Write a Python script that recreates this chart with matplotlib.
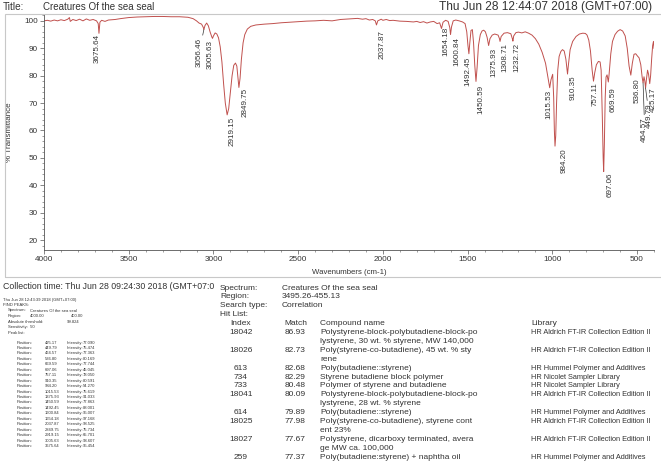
import matplotlib
matplotlib.use("Agg")
import matplotlib.pyplot as plt
from matplotlib.patches import Rectangle
from matplotlib.ticker import MultipleLocator

W, H = 661, 465

# spectrum: wavenumber (cm-1), % transmittance
wavenumbers = [
    4000, 3980, 3960, 3940, 3920, 3900, 3880, 3860, 3850, 3845, 3830, 3810,
    3790, 3770, 3750, 3730, 3710, 3690, 3680, 3675.64, 3670, 3660, 3640, 3620,
    3600, 3580, 3550, 3500, 3450, 3400, 3350, 3300, 3250, 3200, 3150, 3120,
    3100, 3085, 3070, 3060, 3056.46, 3050, 3040, 3030, 3020, 3010, 3005.63,
    3000, 2990, 2980, 2970, 2960, 2950, 2940, 2930, 2919.15, 2910, 2900, 2890,
    2880, 2870, 2862, 2856, 2849.75, 2843, 2835, 2825, 2815, 2800, 2780, 2750,
    2700, 2650, 2600, 2550, 2500, 2450, 2400, 2350, 2300, 2250, 2200, 2150,
    2120, 2100, 2080, 2060, 2045, 2037.87, 2030, 2010, 2000, 1980, 1960, 1940,
    1900, 1860, 1820, 1800, 1780, 1760, 1740, 1720, 1700, 1680, 1665, 1654.18,
    1645, 1630, 1615, 1605, 1600.84, 1595, 1585, 1570, 1550, 1530, 1515, 1505,
    1498, 1492.45, 1487, 1480, 1472, 1465, 1458, 1450.59, 1444, 1436, 1425,
    1415, 1405, 1395, 1385, 1375.93, 1368, 1355, 1340, 1320, 1312, 1308.71,
    1302, 1285, 1265, 1245, 1236, 1232.72, 1228, 1215, 1200, 1180, 1160, 1140,
    1120, 1100, 1080, 1060, 1040, 1025, 1015.53, 1008, 998, 992, 988, 984.20,
    980, 975, 968, 960, 950, 940, 930, 920, 914, 910.35, 905, 895, 880, 860,
    840, 820, 805, 795, 785, 775, 765, 757.11, 750, 740, 728, 718, 712, 705,
    700, 697.06, 693, 688, 683, 677, 672, 669.59, 665, 655, 645, 630, 615, 600,
    585, 570, 558, 547, 536.80, 528, 518, 508, 498, 488, 478, 470, 464.57, 459,
    454, 449.79, 445, 438, 432, 425.17, 420, 414, 408, 403, 400,
]
transmittance = [
    100.0, 100.2, 99.9, 100.3, 100.0, 100.4, 100.1, 100.6, 101.2, 99.8, 100.5, 100.1,
    100.6, 100.0, 100.7, 100.2, 100.5, 100.0, 99.0, 95.45, 99.5, 100.2, 99.8, 100.3,
    100.4, 100.5, 100.8, 101.2, 101.4, 101.5, 101.6, 101.6, 101.5, 101.5, 101.3, 100.8,
    100.0, 99.2, 98.8, 97.6, 96.8, 98.3, 99.2, 98.2, 96.0, 94.2, 93.6,
    94.5, 95.6, 95.2, 93.8, 90.5, 85.0, 77.0, 70.0, 65.7, 68.0, 74.0, 80.0,
    83.8, 84.6, 83.5, 79.5, 75.7, 79.0, 86.0, 92.0, 95.0, 97.0, 98.0, 98.5,
    98.8, 99.0, 99.3, 99.5, 99.7, 99.9, 100.0, 100.2, 100.0, 100.5, 100.7, 100.9,
    100.6, 100.8, 100.3, 100.5, 100.0, 98.5, 100.0, 100.6, 100.2, 100.5, 100.1, 100.2,
    99.9, 99.8, 99.6, 99.8, 99.4, 99.7, 99.2, 99.6, 99.8, 99.0, 99.3, 97.2,
    99.5, 100.2, 99.8, 97.5, 95.0, 97.8, 100.0, 100.3, 100.0, 99.6, 99.0, 96.0,
    91.0, 88.0, 92.0, 96.5, 96.8, 92.0, 84.0, 77.9, 83.0, 91.0, 95.0,
    96.3, 96.6, 96.0, 94.0, 91.0, 93.5, 94.8, 95.2, 94.8, 93.5, 92.5,
    94.3, 95.5, 95.7, 95.3, 93.5, 92.6, 94.5, 95.7, 95.9, 95.6, 96.0, 95.5,
    94.8, 93.5, 91.5, 88.5, 84.5, 79.0, 75.6, 78.5, 80.5, 72.0, 60.0, 54.3,
    58.0, 70.0, 82.0, 87.0, 88.8, 89.5, 89.0, 86.0, 82.5, 80.6, 84.0, 89.5, 92.5, 94.3,
    95.2, 95.5, 95.4, 94.8, 93.0, 89.0, 82.0, 78.0, 81.0, 84.0, 85.2, 85.0, 82.0, 65.0,
    50.0, 45.0, 55.0, 72.0, 79.5, 80.3, 78.5, 77.7, 80.5, 88.0, 92.5, 95.0, 96.2, 96.8,
    96.3, 94.5, 90.0, 83.5, 80.2, 84.5, 87.8, 88.0, 87.2, 86.5, 84.0, 79.5, 77.4, 79.6,
    78.0, 75.5, 78.5, 82.0, 80.5, 77.1, 80.0, 86.0, 91.0, 92.5, 90.0,
]

# labelled peaks on the chart
label_pos = [3675.64, 3056.46, 3005.63, 2919.15, 2849.75, 2037.87, 1654.18,
             1600.84, 1492.45, 1450.59, 1375.93, 1308.71, 1232.72, 1015.53,
             984.20, 910.35, 757.11, 697.06, 669.59, 536.80, 464.57, 449.79,
             425.17]
label_val = [95.45, 96.8, 93.6, 65.7, 75.7, 98.5, 97.2, 95.0, 88.0, 77.9,
             91.0, 92.5, 92.6, 75.6, 54.3, 80.6, 78.0, 45.0, 77.7, 80.2,
             77.4, 75.5, 77.1]

# peak table (left block)
table_pos = [425.17, 449.79, 464.57, 536.80, 669.59, 697.06, 757.11, 910.35,
             984.20, 1015.53, 1375.93, 1450.59, 1492.45, 1600.84, 1654.18,
             2037.87, 2849.75, 2919.15, 3005.63, 3675.64]
table_int = [77.090, 75.474, 77.363, 80.169, 77.744, 45.045, 78.050, 80.591,
             54.270, 75.619, 91.033, 77.863, 88.001, 95.007, 97.168, 98.525,
             75.734, 65.701, 93.607, 95.454]

# hit list (right block)
hit_index = ["18042", "18026", "613", "734", "733", "18041", "614", "18025",
             "18027", "259"]
hit_match = ["86.93", "82.73", "82.68", "82.29", "80.48", "80.09", "79.89",
             "77.98", "77.67", "77.37"]
hit_name = [
    ["Polystyrene-block-polybutadiene-block-po", "lystyrene, 30 wt. % styrene, MW 140,000"],
    ["Poly(styrene-co-butadiene), 45 wt. % sty", "rene"],
    ["Poly(butadiene::styrene)"],
    ["Styrene butadiene block polymer"],
    ["Polymer of styrene and butadiene"],
    ["Polystyrene-block-polybutadiene-block-po", "lystyrene, 28 wt. % styrene"],
    ["Poly(butadiene::styrene)"],
    ["Poly(styrene-co-butadiene), styrene cont", "ent 23%"],
    ["Polystyrene, dicarboxy terminated, avera", "ge MW ca. 100,000"],
    ["Poly(butadiene:styrene) + naphtha oil"],
]
hit_library = ["HR Aldrich FT-IR Collection Edition II",
               "HR Aldrich FT-IR Collection Edition II",
               "HR Hummel Polymer and Additives",
               "HR Nicolet Sampler Library",
               "HR Nicolet Sampler Library",
               "HR Aldrich FT-IR Collection Edition II",
               "HR Hummel Polymer and Additives",
               "HR Aldrich FT-IR Collection Edition II",
               "HR Aldrich FT-IR Collection Edition II",
               "HR Hummel Polymer and Additives"]

plt.rcParams['font.family'] = ['Liberation Sans', 'DejaVu Sans']
ink = '#333333'

fig = plt.figure(figsize=(W / 100, H / 100), dpi=100)


def put(x, y, s, size, **kw):
    """text placed in screen pixels of the printout"""
    kw.setdefault('va', 'center')
    fig.text(x / W, 1 - y / H, s, fontsize=size, color=ink, **kw)


# grey frame around the plot
fig.patches.append(Rectangle((5 / W, 1 - 277 / H), 660 / W, 263 / H,
                             transform=fig.transFigure, fill=False,
                             edgecolor='#c8c8c8', linewidth=0.8))

ax = fig.add_axes([44 / W, 1 - 250 / H, 610 / W, 236 / H])
ax.plot(wavenumbers, transmittance, color='#c0504d', linewidth=0.7)
ax.set_xlim(4000, 400)
ax.set_ylim(16.4, 102.5)
ax.xaxis.set_major_locator(MultipleLocator(500))
ax.xaxis.set_minor_locator(MultipleLocator(100))
ax.yaxis.set_minor_locator(MultipleLocator(2))
ax.set_yticks(range(20, 101, 10))
for s in ['top', 'right']:
    ax.spines[s].set_visible(False)
for s in ['left', 'bottom']:
    ax.spines[s].set_color('#555555')
    ax.spines[s].set_linewidth(0.6)
ax.tick_params(which='major', length=3, width=0.5, color='#555555',
               labelsize=5.9, labelcolor=ink, pad=1.5)
ax.tick_params(which='minor', length=1.5, width=0.4, color='#555555')
ax.set_xlabel('Wavenumbers (cm-1)', fontsize=5.6, color=ink, labelpad=4.5)
ax.set_ylabel('% Transmittance', fontsize=5.8, color=ink)
ax.yaxis.set_label_coords(-31 / 610, 0.5)

# label offsets in points: (dx, gap below the dip)
shift = {3675.64: (-1, 0.5), 3056.46: (-3.5, 6), 3005.63: (-2, 1.2),
         2919.15: (3.5, 1.3), 2849.75: (4.5, 0.5), 2037.87: (3.8, 3.5),
         1654.18: (3, -1), 1600.84: (4.5, 1.5), 1492.45: (-0.8, 2),
         1450.59: (3.8, 2.5), 1375.93: (3.8, 1.8), 1308.71: (3.8, 1.5),
         1232.72: (3, 1.5), 1015.53: (-0.8, 1.5), 984.20: (6.3, 1.5),
         910.35: (4, 0.8), 757.11: (1.5, 0.5), 697.06: (5, 1),
         669.59: (3.8, 3.5), 536.80: (4.5, 2), 464.57: (1.2, 25),
         449.79: (2.6, 11), 425.17: (2.4, 2.5)}
leader = {3056.46, 464.57, 449.79}
for pos, val in zip(label_pos, label_val):
    dx, dy = shift[pos]
    props = None
    if pos in leader:
        props = dict(arrowstyle='-', color='#333333', linewidth=0.5,
                     shrinkA=0, shrinkB=0)
    ax.annotate(f'{pos:.2f}', xy=(pos, val), xytext=(dx, -dy),
                textcoords='offset points', rotation=90, ha='center',
                va='top', fontsize=5.8, color=ink, arrowprops=props)

# header line
put(3, 7, 'Title:', 7.2)
put(43, 7, 'Creatures Of the sea seal', 7.0)
put(652, 7, 'Thu Jun 28 12:44:07 2018 (GMT+07:00)', 8.6, ha='right')

# left block: collection time and peak table
put(3, 286, 'Collection time: Thu Jun 28 09:24:30 2018 (GMT+07:0', 6.3)
small = 3.0
put(3, 299.5, 'Thu Jun 28 12:43:39 2018 (GMT+07:00)', small)
put(3, 305, 'FIND PEAKS:', small)
put(8, 310.5, 'Spectrum:', small)
put(30, 310.5, 'Creatures Of the sea seal', small)
put(8, 316, 'Region:', small)
put(30, 316, '4000.00', small)
put(83, 316, '400.00', small, ha='right')
put(8, 321.5, 'Absolute threshold:', small)
put(67, 321.5, '99.824', small)
put(8, 327, 'Sensitivity:  50', small)
put(8, 332.5, 'Peak list:', small)
for i, (p, v) in enumerate(zip(table_pos, table_int)):
    y = 342.5 + i * 5.45
    put(17, y, 'Position:', small)
    put(45, y, f'{p:.2f}', small)
    put(67, y, 'Intensity:', small)
    put(83, y, f'{v:.3f}', small)

# right block: search results
fs = 6.0
lib_fs = 5.3
put(220, 288, 'Spectrum:', fs)
put(282, 288, 'Creatures Of the sea seal', fs)
put(220, 296.9, 'Region:', fs)
put(282, 296.9, '3495.26-455.13', fs)
put(220, 305.8, 'Search type:', fs)
put(282, 305.8, 'Correlation', fs)
put(220, 314.7, 'Hit List:', fs)
put(230, 323.6, 'Index', fs)
put(284, 323.6, 'Match', fs)
put(320, 323.6, 'Compound name', fs)
put(531, 323.6, 'Library', fs)
line = 0
for idx, m, name, lib in zip(hit_index, hit_match, hit_name, hit_library):
    y = 332.5 + line * 8.9
    put(241, y, idx, fs, ha='center')
    put(295, y, m, fs, ha='center')
    put(531, y, lib, lib_fs)
    for k, part in enumerate(name):
        put(320, y + k * 8.9, part, fs)
    line += len(name)

fig.savefig('out.png', dpi=100)
